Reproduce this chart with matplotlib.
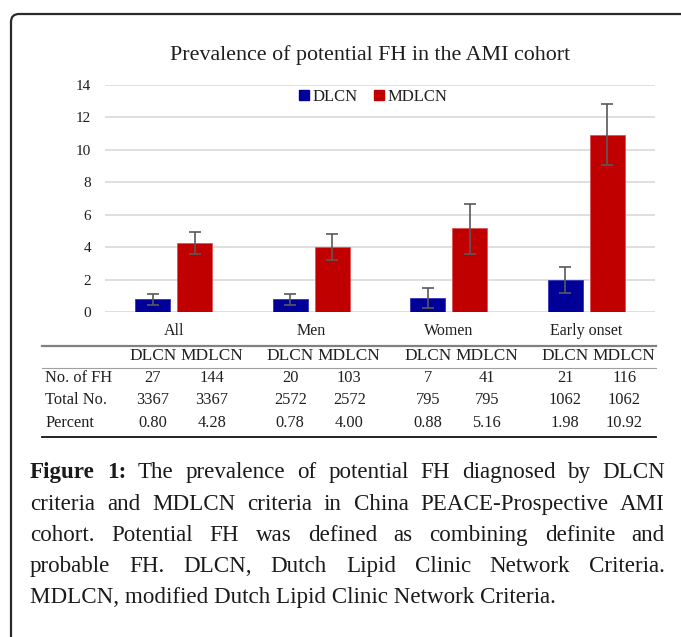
import matplotlib
matplotlib.use("Agg")
import matplotlib.pyplot as plt
from matplotlib.patches import FancyBboxPatch, Patch
from matplotlib import transforms
import numpy as np

# ---------------- data ----------------
categories = ["All", "Men", "Women", "Early onset"]
series = ["DLCN", "MDLCN"]
dlcn_pct = [0.80, 0.78, 0.88, 1.98]
mdlcn_pct = [4.28, 4.00, 5.16, 10.92]
dlcn_ci_low = [0.45, 0.41, 0.23, 1.15]
dlcn_ci_high = [1.09, 1.09, 1.50, 2.80]
mdlcn_ci_low = [3.60, 3.23, 3.60, 9.08]
mdlcn_ci_high = [4.96, 4.78, 6.69, 12.83]
dlcn_n_fh = [27, 20, 7, 21]
mdlcn_n_fh = [144, 103, 41, 116]
total_n = [3367, 2572, 795, 1062]
yticks = [0, 2, 4, 6, 8, 10, 12, 14]
row_labels = ["No. of FH", "Total No.", "Percent"]
title = "Prevalence of potential FH in the AMI cohort"
caption_lines = [
    "The prevalence of potential FH diagnosed by DLCN",
    "criteria and MDLCN criteria in China PEACE-Prospective AMI",
    "cohort. Potential FH was defined as combining definite and",
    "probable FH. DLCN, Dutch Lipid Clinic Network Criteria.",
    "MDLCN, modified Dutch Lipid Clinic Network Criteria.",
]
caption_label = "Figure 1:"

# ---------------- style ----------------
SERIF = ["Liberation Serif", "DejaVu Serif"]
plt.rcParams["font.family"] = SERIF
BLUE = "#000099"
RED = "#C00000"
TXT = "#1f1f1f"
W, H = 681, 637

fig = plt.figure(figsize=(W / 100, H / 100), dpi=100)
ov = fig.add_axes([0, 0, 1, 1])
ov.set_xlim(0, W)
ov.set_ylim(H, 0)
ov.axis("off")

# border box
box = FancyBboxPatch((11, 14), 720, 720, boxstyle="round,pad=0,rounding_size=8",
                     fill=False, edgecolor="#2a2a2a", linewidth=1.6)
ov.add_patch(box)

# ---------------- chart ----------------
ax = fig.add_axes([105 / W, 1 - 312 / H, 550 / W, 227 / H])
ax.patch.set_alpha(0)
x = np.arange(len(categories)) + 0.5
bw = 0.255
off = 0.153
d = np.array(dlcn_pct)
m = np.array(mdlcn_pct)
ax.bar(x - off, d, bw, color=BLUE, edgecolor="#3333bb", linewidth=0.6, zorder=3, label=series[0])
ax.bar(x + off, m, bw, color=RED, edgecolor="#dd5555", linewidth=0.6, zorder=3, label=series[1])
ax.errorbar(x - off, d, yerr=[d - np.array(dlcn_ci_low), np.array(dlcn_ci_high) - d],
            fmt="none", ecolor="#595959", elinewidth=1.2, capsize=4, capthick=1.2, zorder=4)
ax.errorbar(x + off, m, yerr=[m - np.array(mdlcn_ci_low), np.array(mdlcn_ci_high) - m],
            fmt="none", ecolor="#595959", elinewidth=1.2, capsize=4, capthick=1.2, zorder=4)
ax.set_xlim(0, 4)
ax.set_ylim(0, 14)
ax.set_yticks(yticks)
ax.yaxis.grid(True, color="#d9d9d9", linewidth=1.2, zorder=0)
ax.set_axisbelow(True)
for s in ax.spines.values():
    s.set_visible(False)
ax.tick_params(axis="y", length=0, pad=10, labelsize=11, labelcolor=TXT)
ax.set_xticks(x)
ax.set_xticklabels(categories, fontsize=11.5, color=TXT)
ax.tick_params(axis="x", length=0, pad=8)

leg = ax.legend(handles=[Patch(color=BLUE, label=series[0]), Patch(color=RED, label=series[1])],
                loc="center", ncol=2, frameon=False, fontsize=12, handlelength=0.6, handleheight=0.6,
                handletextpad=0.2, columnspacing=1.0)
leg.set_bbox_to_anchor((373 / W, 1 - 97 / H), transform=fig.transFigure)
for t in leg.get_texts():
    t.set_color(TXT)

ov.text(370, 55, title, ha="center", va="center", fontsize=15.8, color=TXT)

# ---------------- table ----------------
tr = transforms.blended_transform_factory(ax.transData, ov.transData)
ov.plot([42, 656], [345.5, 345.5], color="#808080", linewidth=1.6)
ov.plot([42, 656], [367.5, 367.5], color="#a0a0a0", linewidth=0.8)
ov.plot([42, 656], [436.5, 436.5], color="#111111", linewidth=1.3)
col_d = -0.153
col_m = 0.276
tfs = 11.8
hfs = 12.4
for i in range(len(categories)):
    cx = x[i]
    ov.text(cx + col_d, 356, series[0], transform=tr, ha="center", va="center", fontsize=hfs, color=TXT)
    ov.text(cx + col_m, 356, series[1], transform=tr, ha="center", va="center", fontsize=hfs, color=TXT)
    rows_d = [str(dlcn_n_fh[i]), str(total_n[i]), f"{dlcn_pct[i]:.2f}"]
    rows_m = [str(mdlcn_n_fh[i]), str(total_n[i]), f"{mdlcn_pct[i]:.2f}"]
    for r, yy in enumerate([378.5, 400.5, 423]):
        ov.text(cx + col_d, yy, rows_d[r], transform=tr, ha="center", va="center", fontsize=tfs, color=TXT)
        ov.text(cx + col_m, yy, rows_m[r], transform=tr, ha="center", va="center", fontsize=tfs, color=TXT)
for r, yy in enumerate([378.5, 400.5, 423]):
    ov.text(45, yy, row_labels[r], ha="left", va="center", fontsize=tfs, color=TXT)

# ---------------- caption (justified) ----------------
cap_fs = 16.6
x0, x1 = 30, 665
baselines = [478, 510, 541, 572, 603]
fig.canvas.draw()
renderer = fig.canvas.get_renderer()
for li, line in enumerate(caption_lines):
    words = [(w, False) for w in line.split(" ")]
    if li == 0:
        words = [(w, True) for w in caption_label.split(" ")] + words
    if li == len(caption_lines) - 1:
        ov.text(x0, baselines[li], line, ha="left", va="baseline", fontsize=cap_fs, color="#1a1a1a")
        continue
    texts = []
    for w, bold in words:
        t = ov.text(0, baselines[li], w, ha="left", va="baseline", fontsize=cap_fs,
                    fontweight="bold" if bold else "normal", color="#1a1a1a")
        texts.append(t)
    widths = [t.get_window_extent(renderer).width for t in texts]
    gap = (x1 - x0 - sum(widths)) / (len(texts) - 1)
    xx = x0
    for t, wdt in zip(texts, widths):
        t.set_x(xx)
        xx += wdt + gap

fig.savefig("out.png", dpi=100)
